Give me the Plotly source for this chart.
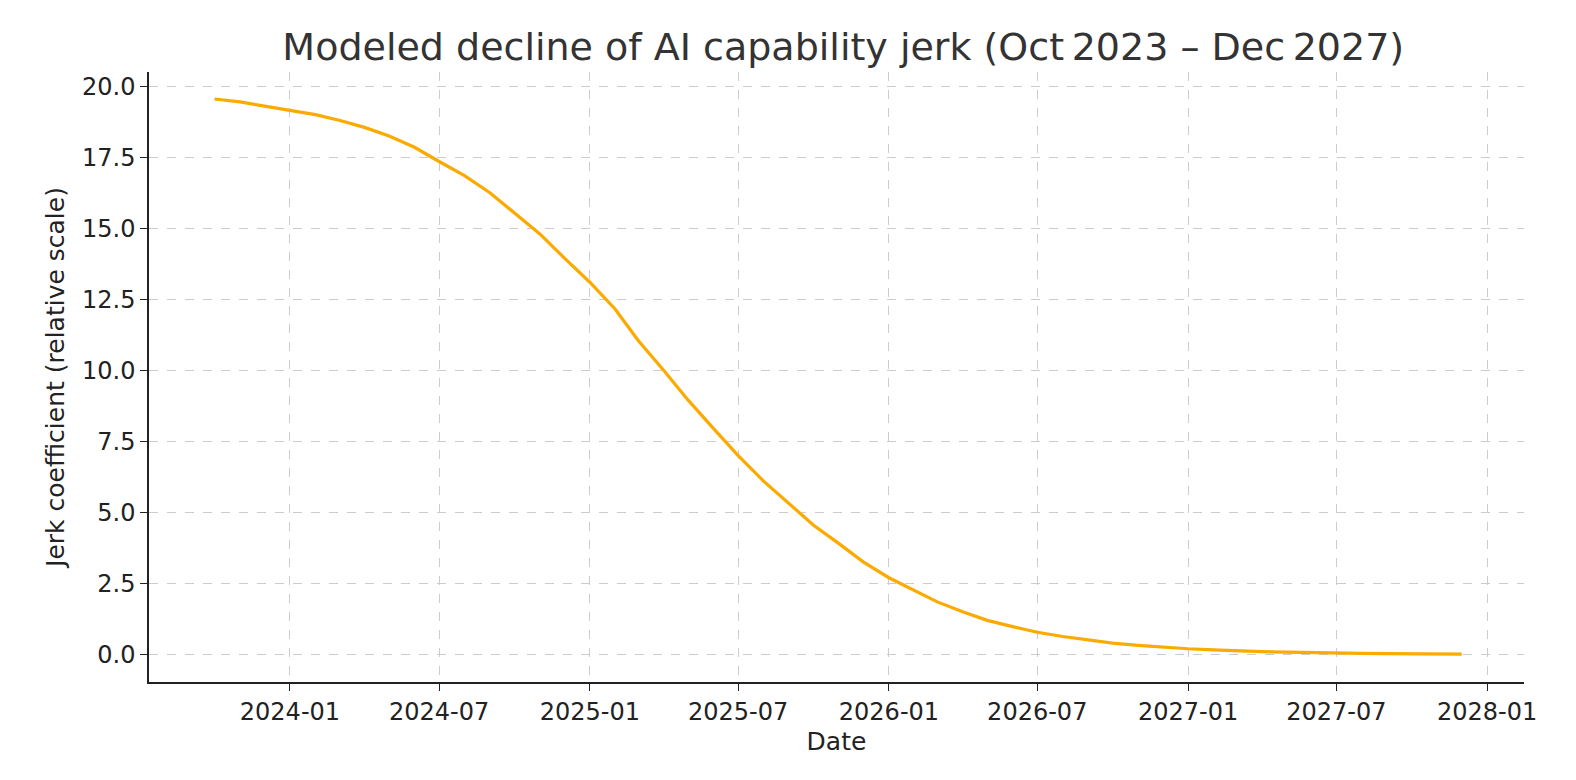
import plotly.graph_objects as go
import pandas as pd

dates = pd.date_range("2023-10-01", "2027-12-01", freq="MS")
jerk = [19.55,19.45,19.3,19.15,19.0,18.8,18.55,18.25,17.85,17.35,16.85,16.25,15.55,14.8,13.95,
        13.1,12.15,11.05,10.0,8.95,7.95,7.0,6.1,5.3,4.55,3.9,3.25,2.7,2.25,1.85,1.5,1.2,0.98,
        0.78,0.63,0.5,0.4,0.32,0.25,0.2,0.16,0.12,0.1,0.08,0.06,0.05,0.04,0.03,0.02,0.015,0.01]
xticks = ["2024-01-01","2024-07-01","2025-01-01","2025-07-01","2026-01-01","2026-07-01","2027-01-01","2027-07-01","2028-01-01"]
xticklabels = ["2024-01","2024-07","2025-01","2025-07","2026-01","2026-07","2027-01","2027-07","2028-01"]
yticks = [0,2.5,5,7.5,10,12.5,15,17.5,20]

fig = go.Figure(go.Scatter(x=dates, y=jerk, mode="lines", line=dict(color="#FBAA00", width=3.2)))
font = "DejaVu Sans"
axis_common = dict(showline=True, linecolor="#222", linewidth=1.5, ticks="outside", ticklen=7,
                   tickcolor="#222", showgrid=True, gridcolor="#cccccc", griddash="dash",
                   gridwidth=1, zeroline=False, automargin=False, tickfont=dict(size=24, color="#222"))
fig.update_layout(
    width=1576, height=780, plot_bgcolor="white", paper_bgcolor="white",
    margin=dict(l=141, r=60, t=64, b=106),
    font=dict(family=font, color="#222"),
    title=dict(text="Modeled decline of AI capability jerk (Oct\u20092023 \u2013 Dec\u20092027)",
               x=0.53, xanchor="center", y=0.95, yanchor="middle", font=dict(size=38, color="#333")),
    showlegend=False,
)
fig.update_xaxes(**axis_common, range=["2023-07-13", "2028-02-15"], tickvals=xticks, ticktext=xticklabels,
                 title=dict(text="Date", font=dict(size=25), standoff=8))
fig.update_yaxes(**axis_common, range=[-0.97, 20.5], tickvals=yticks, tickformat=".1f",
                 title=dict(text="Jerk coefficient (relative scale)", font=dict(size=25), standoff=10))
fig.write_html("out.html")
